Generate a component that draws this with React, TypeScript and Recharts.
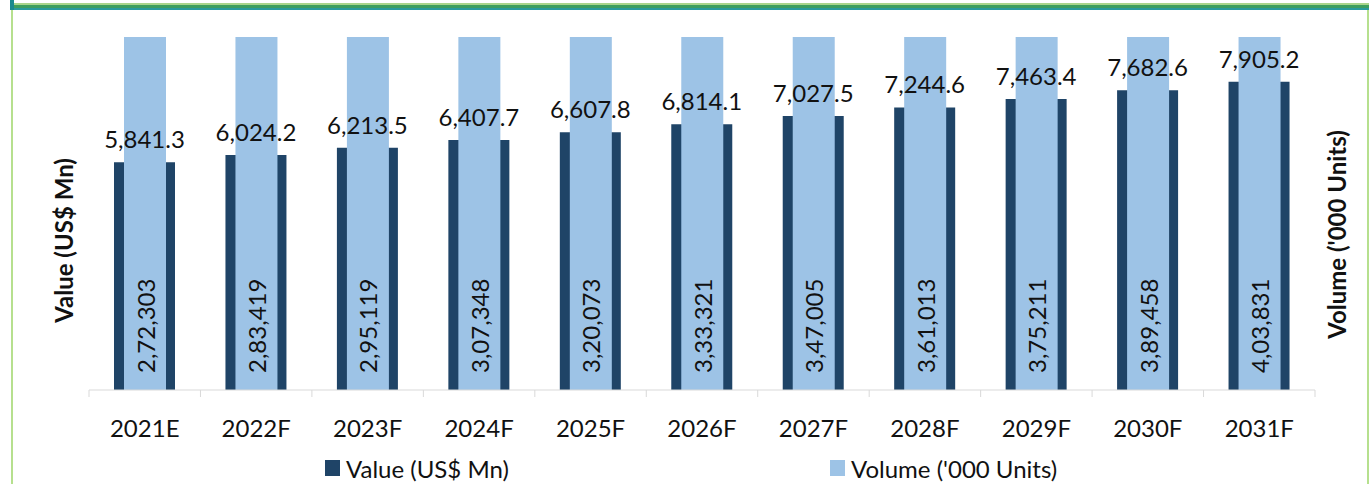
import { Bar, BarChart, LabelList, Legend, XAxis, YAxis } from "recharts";

const years = ["2021E", "2022F", "2023F", "2024F", "2025F", "2026F", "2027F", "2028F", "2029F", "2030F", "2031F"];
const valueUsdMn = [5841.3, 6024.2, 6213.5, 6407.7, 6607.8, 6814.1, 7027.5, 7244.6, 7463.4, 7682.6, 7905.2];
const volumeUnits = [272303, 283419, 295119, 307348, 320073, 333321, 347005, 361013, 375211, 389458, 403831];

const data = years.map((year, i) => ({ year, value: valueUsdMn[i], volume: volumeUnits[i] }));

const DARK = "#1f4467";
const LIGHT = "#9dc3e6";
const FONT = "Lato, 'Open Sans', sans-serif";
const TEXT = "#111";
const TICK_MARGIN = 37;

// 2,72,303 style grouping
function indian(n: number) {
  const s = String(Math.round(n));
  if (s.length <= 3) return s;
  const last3 = s.slice(-3);
  const rest = s.slice(0, -3).replace(/\B(?=(\d{2})+(?!\d))/g, ",");
  return rest + "," + last3;
}

const fmtValue = (v: any) =>
  Number(v).toLocaleString("en-US", { minimumFractionDigits: 1, maximumFractionDigits: 1 });

function CategoryTick(props: any) {
  const { x, y, payload, index } = props;
  const half = payload?.offset ?? 55.7;
  const axisY = y - TICK_MARGIN;
  return (
    <g>
      <line x1={x - half} x2={x - half} y1={axisY} y2={axisY + 7} stroke="#d9d9d9" />
      {index === years.length - 1 && (
        <line x1={x + half} x2={x + half} y1={axisY} y2={axisY + 7} stroke="#d9d9d9" />
      )}
      <text x={x} y={y} textAnchor="middle" dominantBaseline="central" fontSize={24} fill={TEXT} fontFamily={FONT}>
        {payload.value}
      </text>
    </g>
  );
}

function VolumeLabel(props: any) {
  const { x, y, width, height, value } = props;
  const cx = x + width / 2;
  const by = y + height - 17;
  return (
    <text
      x={cx}
      y={by}
      transform={`rotate(-90 ${cx} ${by})`}
      textAnchor="start"
      dominantBaseline="central"
      fontSize={24}
      fill={TEXT}
      fontFamily={FONT}
    >
      {indian(value)}
    </text>
  );
}

function AxisTitle({ viewBox, text, dx, dy }: any) {
  const cx = viewBox.x + dx;
  const cy = viewBox.y + viewBox.height / 2 + dy;
  return (
    <text
      x={cx}
      y={cy}
      transform={`rotate(-90 ${cx} ${cy})`}
      textAnchor="middle"
      dominantBaseline="central"
      fontSize={24}
      fontWeight={700}
      fill={TEXT}
      fontFamily={FONT}
    >
      {text}
    </text>
  );
}

function LegendBox() {
  const item = (left: number, color: string, label: string) => (
    <div style={{ position: "absolute", left, top: 0, display: "flex", alignItems: "center", height: 30 }}>
      <span style={{ width: 15, height: 16, background: color, marginRight: 6, display: "inline-block" }} />
      <span style={{ fontSize: 24, color: TEXT, fontFamily: FONT, whiteSpace: "nowrap" }}>{label}</span>
    </div>
  );
  return (
    <div style={{ position: "relative", width: 1370, height: 30 }}>
      {item(325, DARK, "Value (US$ Mn)")}
      {item(830, LIGHT, "Volume ('000 Units)")}
    </div>
  );
}

export default function App() {
  return (
    <div style={{ position: "absolute", left: 0, top: 0, width: 1370, height: 484, background: "#fff", overflow: "hidden" }}>
      {/* frame */}
      <div style={{ position: "absolute", left: 10, top: 3, width: 1359, height: 2, background: "#a9d58a" }} />
      <div style={{ position: "absolute", left: 10, top: 5, width: 1359, height: 3, background: "#3e9e5e" }} />
      <div style={{ position: "absolute", left: 10, top: 8, width: 1359, height: 2, background: "#2a9a9c" }} />
      <div style={{ position: "absolute", left: 10, top: 0, width: 4, height: 10, background: "#1b8a8e" }} />
      <div style={{ position: "absolute", left: 11, top: 10, width: 2, height: 474, background: "#b6e08e" }} />
      <div style={{ position: "absolute", left: 1367, top: 10, width: 2, height: 474, background: "#b6e08e" }} />

      <BarChart
        width={1370}
        height={484}
        data={data}
        margin={{ top: 37, right: 0, bottom: 0, left: 0 }}
        style={{ position: "absolute", left: 0, top: 0 }}
      >
        <XAxis
          xAxisId="val"
          dataKey="year"
          height={94}
          interval={0}
          tickSize={0}
          tickMargin={TICK_MARGIN}
          tick={<CategoryTick />}
          tickLine={false}
          axisLine={{ stroke: "#d9d9d9" }}
        />
        <XAxis xAxisId="vol" dataKey="year" hide />
        <YAxis
          yAxisId="left"
          width={89}
          domain={[0, 9050]}
          tick={false}
          tickLine={false}
          axisLine={false}
          label={{ content: (p: any) => <AxisTitle {...p} text="Value (US$ Mn)" dx={63} dy={27} /> }}
        />
        <YAxis
          yAxisId="right"
          orientation="right"
          width={55}
          domain={[0, 250000]}
          allowDataOverflow
          tick={false}
          tickLine={false}
          axisLine={false}
          label={{ content: (p: any) => <AxisTitle {...p} text="Volume ('000 Units)" dx={21} dy={21} /> }}
        />
        <Legend
          verticalAlign="middle"
          align="center"
          layout="horizontal"
          content={() => <LegendBox />}
          wrapperStyle={{ top: 453, left: 0, width: 1370 }}
        />
        <Bar xAxisId="val" yAxisId="left" dataKey="value" name="Value (US$ Mn)" fill={DARK} barSize={61} isAnimationActive={false}>
          <LabelList
            dataKey="value"
            position="top"
            offset={14}
            formatter={fmtValue}
            fontSize={24}
            fill={TEXT}
            fontFamily={FONT}
          />
        </Bar>
        <Bar xAxisId="vol" yAxisId="right" dataKey="volume" name="Volume ('000 Units)" fill={LIGHT} barSize={42} isAnimationActive={false}>
          <LabelList dataKey="volume" content={<VolumeLabel />} />
        </Bar>
      </BarChart>
    </div>
  );
}
